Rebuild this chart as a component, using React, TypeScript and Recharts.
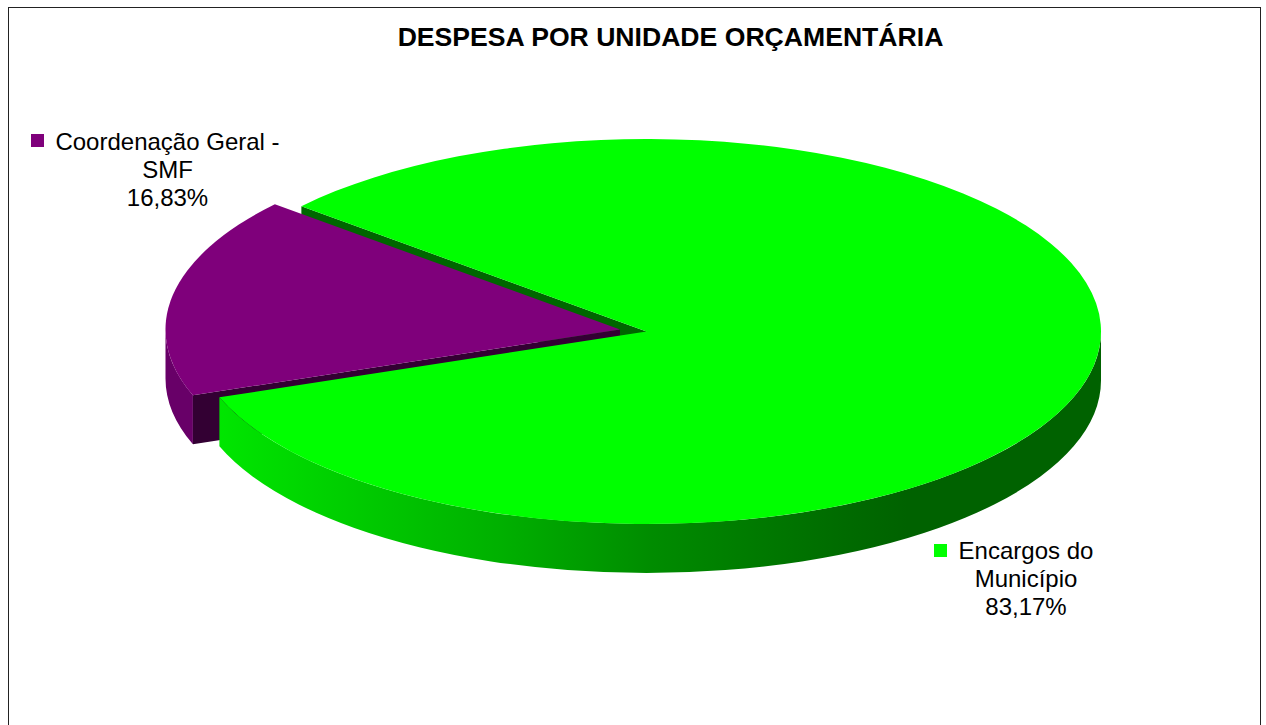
import React from "react";
import { PieChart, Pie, Cell } from "recharts";

const categories = ["Coordenação Geral - SMF", "Encargos do Município"];
const shares = [16.83, 83.17];
const shareLabels = ["16,83%", "83,17%"];
const labelLines = [["Coordenação Geral -", "SMF"], ["Encargos do", "Município"]];
const topColors = ["#7f007b", "#00ff00"];

const tableData = categories.map((name, i) => ({ name, value: shares[i] }));

const CX = 646.5;
const CY = 331.5;
const RX = 454.5;
const RY = 192.5;
const DEPTH = 49;
const EXPLODE_DX = -26.5;
const EXPLODE_DY = -2;
const FONT = '"Liberation Sans", Arial, sans-serif';

const rad = (d: number) => (d * Math.PI) / 180;
const pt = (cx: number, cy: number, a: number, dy = 0) => ({
  x: cx + RX * Math.cos(rad(a)),
  y: cy - RY * Math.sin(rad(a)) + dy,
});

const topPath = (cx: number, cy: number, a1: number, a2: number) => {
  const p = pt(cx, cy, a1);
  const q = pt(cx, cy, a2);
  const large = Math.abs(a1 - a2) > 180 ? 1 : 0;
  return `M${cx},${cy}L${p.x},${p.y}A${RX},${RY} 0 ${large} 1 ${q.x},${q.y}Z`;
};

const wallPath = (cx: number, cy: number, a1: number, a2: number) => {
  const p = pt(cx, cy, a1);
  const q = pt(cx, cy, a2);
  const q2 = pt(cx, cy, a2, DEPTH);
  const p2 = pt(cx, cy, a1, DEPTH);
  const large = Math.abs(a1 - a2) > 180 ? 1 : 0;
  return `M${p.x},${p.y}A${RX},${RY} 0 ${large} 1 ${q.x},${q.y}L${q2.x},${q2.y}A${RX},${RY} 0 ${large} 0 ${p2.x},${p2.y}Z`;
};

const cutPath = (cx: number, cy: number, a: number) => {
  const p = pt(cx, cy, a);
  return `M${cx},${cy}L${p.x},${p.y}L${p.x},${p.y + DEPTH}L${cx},${cy + DEPTH}Z`;
};

// Each slice is drawn from the angles that the Pie computes, flattened into an ellipse.
const Slice3D = (props: any) => {
  const { startAngle, endAngle, cx, cy, fill, name } = props;
  if (name === categories[0]) {
    const x = cx + EXPLODE_DX;
    const y = cy + EXPLODE_DY;
    return (
      <g>
        {/* the neighbouring slice's cut wall sits behind this exploded wedge */}
        <path d={cutPath(cx, cy, endAngle)} fill="#006600" />
        <path d={wallPath(x, y, startAngle, 180)} fill="#680068" />
        <path d={cutPath(x, y, startAngle)} fill="#330033" />
        <path d={topPath(x, y, startAngle, endAngle)} fill={fill} />
      </g>
    );
  }
  return (
    <g>
      <path d={wallPath(cx, cy, 0, endAngle)} fill="url(#greenWall)" />
      <path d={topPath(cx, cy, startAngle, endAngle)} fill={fill} />
    </g>
  );
};

const labelAnchors = [
  { textX: 167.5, firstBaseline: 150, squareX: 31, squareY: 134 },
  { textX: 1026, firstBaseline: 559, squareX: 934, squareY: 544 },
];

const SliceLabel = (props: any) => {
  const i = categories.indexOf(props.name);
  const a = labelAnchors[i];
  const lines = [...labelLines[i], shareLabels[i]];
  return (
    <g>
      <rect x={a.squareX} y={a.squareY} width={13} height={13} fill={topColors[i]} />
      {lines.map((t, k) => (
        <text
          key={k}
          x={a.textX}
          y={a.firstBaseline + k * 28}
          textAnchor="middle"
          fontFamily={FONT}
          fontSize={24}
          fill="#000"
        >
          {t}
        </text>
      ))}
    </g>
  );
};

export default function App() {
  return (
    <div style={{ position: "fixed", left: 0, top: 0, width: 1266, height: 725, overflow: "hidden", background: "#fff" }}>
      <div
        style={{
          position: "absolute",
          left: 8,
          top: 7,
          width: 1251,
          height: 800,
          border: "1.5px solid #222",
          boxSizing: "content-box",
        }}
      />
      <div style={{ position: "absolute", left: 0, top: 0 }}>
        <PieChart width={1266} height={725} margin={{ top: 0, right: 0, bottom: 0, left: 0 }}>
          <defs>
            <linearGradient id="greenWall" gradientUnits="userSpaceOnUse" x1={219} y1={0} x2={1101} y2={0}>
              <stop offset="0" stopColor="#00e600" />
              <stop offset="0.13" stopColor="#00d000" />
              <stop offset="0.32" stopColor="#00b000" />
              <stop offset="0.49" stopColor="#008c00" />
              <stop offset="0.7" stopColor="#006c00" />
              <stop offset="0.78" stopColor="#006200" />
              <stop offset="1" stopColor="#006200" />
            </linearGradient>
          </defs>
          <text
            x={670.5}
            y={46}
            textAnchor="middle"
            fontFamily={FONT}
            fontSize={26.6}
            fontWeight="bold"
            fill="#000"
          >
            DESPESA POR UNIDADE ORÇAMENTÁRIA
          </text>
          <Pie
            data={tableData}
            dataKey="value"
            nameKey="name"
            cx={CX}
            cy={CY}
            outerRadius={RX}
            startAngle={200}
            endAngle={-160}
            stroke="none"
            isAnimationActive={false}
            shape={Slice3D}
            label={SliceLabel}
            labelLine={false}
          >
            {tableData.map((d, i) => (
              <Cell key={d.name} fill={topColors[i]} />
            ))}
          </Pie>
        </PieChart>
      </div>
    </div>
  );
}
